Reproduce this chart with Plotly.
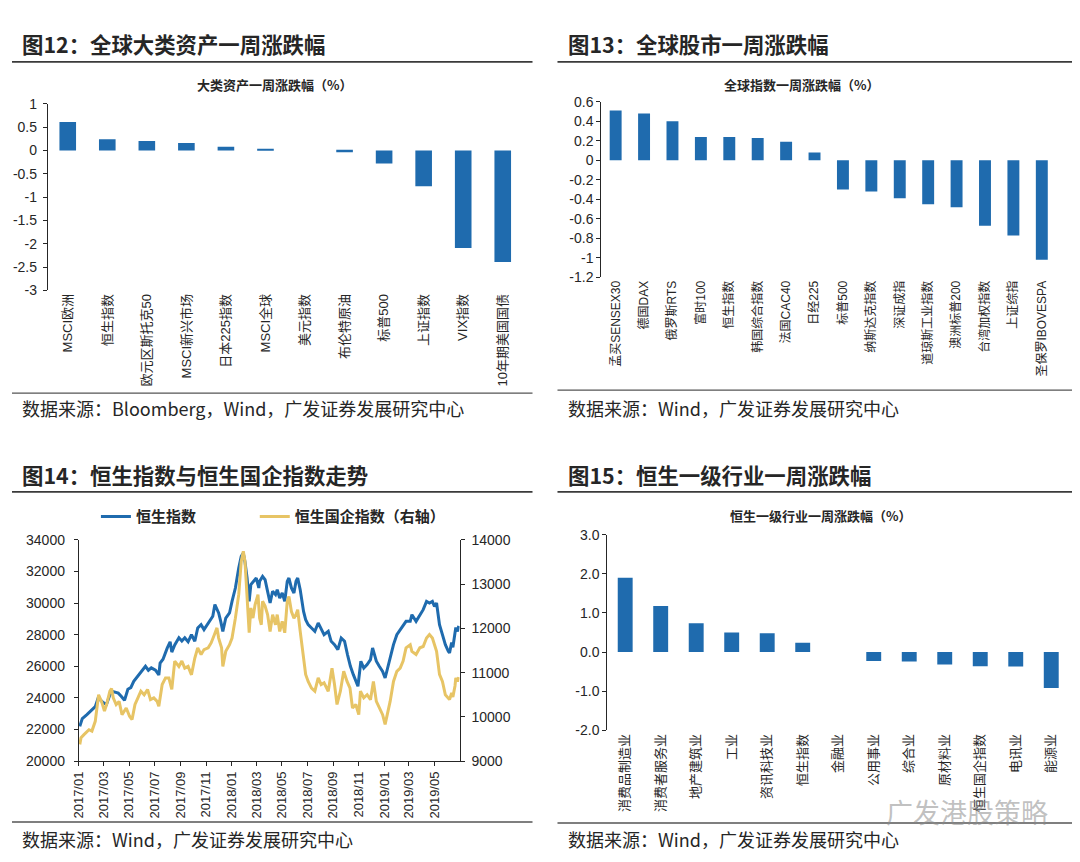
import plotly.graph_objects as go

# ---------------- data ----------------
p1_cats = ["MSCI欧洲", "恒生指数", "欧元区斯托克50", "MSCI新兴市场", "日本225指数", "MSCI全球",
           "美元指数", "布伦特原油", "标普500", "上证指数", "VIX指数", "10年期美国国债"]
p1_vals = [0.61, 0.24, 0.20, 0.16, 0.08, 0.02, 0.0, -0.04, -0.28, -0.77, -2.09, -2.39]
p1_ticks = [1, 0.5, 0, -0.5, -1, -1.5, -2, -2.5, -3]
p1_ticktext = ["1", "0.5", "0", "-0.5", "-1", "-1.5", "-2", "-2.5", "-3"]

p2_cats = ["孟买SENSEX30", "德国DAX", "俄罗斯RTS", "富时100", "恒生指数", "韩国综合指数", "法国CAC40",
           "日经225", "标普500", "纳斯达克指数", "深证成指", "道琼斯工业指数", "澳洲标普200",
           "台湾加权指数", "上证综指", "圣保罗IBOVESPA"]
p2_vals = [0.51, 0.48, 0.40, 0.24, 0.24, 0.23, 0.19, 0.08, -0.30, -0.32, -0.39, -0.45, -0.48,
           -0.67, -0.77, -1.02]
p2_ticks = [0.6, 0.4, 0.2, 0, -0.2, -0.4, -0.6, -0.8, -1, -1.2]
p2_ticktext = ["0.6", "0.4", "0.2", "0", "-0.2", "-0.4", "-0.6", "-0.8", "-1", "-1.2"]

p4_cats = ["消费品制造业", "消费者服务业", "地产建筑业", "工业", "资讯科技业", "恒生指数", "金融业",
           "公用事业", "综合业", "原材料业", "恒生国企指数", "电讯业", "能源业"]
p4_vals = [1.90, 1.18, 0.74, 0.50, 0.48, 0.24, 0.0, -0.23, -0.24, -0.32, -0.36, -0.37, -0.92]
p4_ticks = [3, 2, 1, 0, -1, -2]
p4_ticktext = ["3.0", "2.0", "1.0", "0.0", "-1.0", "-2.0"]

hsi_dates = ["2017-01-03", "2017-01-09", "2017-01-20", "2017-02-01", "2017-02-09", "2017-02-16",
             "2017-02-28", "2017-03-08", "2017-03-16", "2017-03-24", "2017-04-05", "2017-04-12",
             "2017-04-20", "2017-04-28", "2017-05-05", "2017-05-12", "2017-05-22", "2017-06-02",
             "2017-06-09", "2017-06-16", "2017-06-23", "2017-07-03", "2017-07-11", "2017-07-14",
             "2017-07-21", "2017-07-31", "2017-08-07", "2017-08-11", "2017-08-18", "2017-08-28",
             "2017-09-04", "2017-09-11", "2017-09-19", "2017-09-27", "2017-10-05", "2017-10-12",
             "2017-10-20", "2017-10-27", "2017-11-06", "2017-11-13", "2017-11-17", "2017-11-22",
             "2017-12-01", "2017-12-06", "2017-12-11", "2017-12-18", "2017-12-27", "2018-01-02",
             "2018-01-10", "2018-01-18", "2018-01-24", "2018-01-29", "2018-02-02", "2018-02-07",
             "2018-02-12", "2018-02-16", "2018-02-23",
             "2018-03-01", "2018-03-07", "2018-03-09", "2018-03-16", "2018-03-22", "2018-03-28",
             "2018-04-03", "2018-04-09", "2018-04-16", "2018-04-20", "2018-04-26", "2018-05-02",
             "2018-05-08", "2018-05-14", "2018-05-18", "2018-05-24", "2018-05-30", "2018-06-04",
             "2018-06-08", "2018-06-14", "2018-06-22", "2018-06-27", "2018-07-03", "2018-07-11",
             "2018-07-19", "2018-07-27", "2018-08-03", "2018-08-10", "2018-08-20", "2018-08-27",
             "2018-09-04", "2018-09-12", "2018-09-20", "2018-09-28", "2018-10-05", "2018-10-12",
             "2018-10-19", "2018-10-26", "2018-10-30", "2018-11-06", "2018-11-13", "2018-11-21",
             "2018-11-29", "2018-12-04", "2018-12-13", "2018-12-20", "2018-12-28", "2019-01-03",
             "2019-01-15", "2019-01-23", "2019-01-31", "2019-02-08", "2019-02-15", "2019-02-22",
             "2019-03-04", "2019-03-08", "2019-03-18", "2019-03-27", "2019-04-04", "2019-04-12",
             "2019-04-19", "2019-04-26", "2019-05-01", "2019-05-06", "2019-05-13", "2019-05-20",
             "2019-05-27", "2019-06-03", "2019-06-06", "2019-06-11", "2019-06-14", "2019-06-19",
             "2019-06-21", "2019-06-25", "2019-06-28"]
hsi_vals = [22200, 22700, 22950, 23250, 23450, 24000,
            23700, 23600, 24200, 24400, 24300, 24100,
            23850, 24550, 24650, 25050, 25400, 25800,
            26000, 25750, 25900, 25750, 25450, 26200,
            26450, 27150, 27550, 26900, 27350, 27800,
            27600, 27800, 27550, 28000, 27580, 28420,
            28630, 28320, 28740, 29050, 29160, 29900,
            29370, 28840, 28210, 29050, 29370, 30100,
            30950, 32210, 32950, 33150, 32600, 31580,
            30100, 31160, 31370,
            31580, 30950, 31370, 31680, 31470, 30740,
            30000, 30740, 30530, 30840, 30320, 30630,
            30100, 31370, 31580, 30950, 30630, 31370,
            31580, 30840, 29470, 28950, 28630, 28420,
            28210, 28740, 28320, 28000, 28210, 27580,
            27370, 27050, 27790, 27580, 26740, 26000,
            25470, 25050, 24740, 26320, 25890, 26110,
            26420, 27160, 26320, 26000, 25680, 25260,
            26530, 27370, 28000, 28320, 28630, 28840,
            28840, 29260, 28840, 29260, 29580, 30100,
            30000, 30100, 29790, 30000, 28630, 28000,
            27370, 26950, 26850, 27500, 27200, 28100,
            28450, 28200, 28550]

hscei_dates = ["2017-01-03", "2017-01-06", "2017-01-13", "2017-01-25", "2017-02-01", "2017-02-09",
               "2017-02-17", "2017-02-24", "2017-03-03", "2017-03-08", "2017-03-16", "2017-03-20",
               "2017-03-24", "2017-03-31", "2017-04-07", "2017-04-14", "2017-04-24", "2017-05-02",
               "2017-05-08", "2017-05-15", "2017-05-22", "2017-05-29", "2017-06-06", "2017-06-14",
               "2017-06-21", "2017-06-29", "2017-07-07", "2017-07-11", "2017-07-19", "2017-07-27",
               "2017-08-04", "2017-08-11", "2017-08-18", "2017-08-28", "2017-09-04", "2017-09-11",
               "2017-09-19", "2017-09-27", "2017-10-05", "2017-10-12", "2017-10-20", "2017-10-27",
               "2017-11-06", "2017-11-13", "2017-11-21", "2017-11-27", "2017-12-01", "2017-12-08",
               "2017-12-11", "2017-12-18", "2017-12-27", "2018-01-02", "2018-01-10", "2018-01-18",
               "2018-01-24", "2018-01-29", "2018-02-02", "2018-02-07", "2018-02-12", "2018-02-16",
               "2018-02-21", "2018-02-26",
               "2018-03-01", "2018-03-05", "2018-03-09", "2018-03-13", "2018-03-16", "2018-03-22",
               "2018-03-28", "2018-04-03", "2018-04-09", "2018-04-16", "2018-04-20", "2018-04-26",
               "2018-05-02", "2018-05-08", "2018-05-14", "2018-05-18", "2018-05-24", "2018-05-30",
               "2018-06-04", "2018-06-08", "2018-06-14", "2018-06-22", "2018-06-27", "2018-07-03",
               "2018-07-11", "2018-07-19", "2018-07-27", "2018-08-03", "2018-08-10", "2018-08-20",
               "2018-08-29", "2018-09-04", "2018-09-10", "2018-09-18", "2018-09-26", "2018-10-04",
               "2018-10-11", "2018-10-17", "2018-10-25", "2018-11-01", "2018-11-05", "2018-11-13",
               "2018-11-21", "2018-11-29", "2018-12-06", "2018-12-13", "2018-12-20", "2018-12-28",
               "2019-01-03", "2019-01-15", "2019-01-23", "2019-01-31", "2019-02-08", "2019-02-15",
               "2019-02-22", "2019-03-04", "2019-03-08", "2019-03-18", "2019-03-27", "2019-04-04",
               "2019-04-12", "2019-04-19", "2019-04-26", "2019-05-01", "2019-05-06", "2019-05-13",
               "2019-05-20", "2019-05-27", "2019-06-03", "2019-06-06", "2019-06-11", "2019-06-14",
               "2019-06-19", "2019-06-21", "2019-06-25", "2019-06-28"]
hscei_vals = [9380, 9530, 9600, 9710, 9680, 9900,
              10500, 10350, 10130, 10280, 10580, 10640,
              10430, 10280, 10350, 10050, 10200, 10015,
              9940, 10280, 10430, 10580, 10500, 10620,
              10390, 10430, 10350, 10240, 10730, 10880,
              10880, 10620, 11260, 11140, 11260, 11100,
              11140, 10950, 11330, 11560, 11410, 11520,
              11560, 11670, 11860, 12010, 11780, 11560,
              11140, 11480, 11630, 11780, 12230, 12760,
              13510, 13740, 13510, 12610, 11900, 12460,
              12230, 12530,
              12610, 12760, 12230, 12080, 12610, 12500,
              12310, 11930, 12310, 12080, 12310, 11930,
              12160, 11900, 12610, 12720, 12380, 12230,
              12310, 12420, 11930, 11330, 10960, 10800,
              10650, 10580, 10880, 10730, 10770, 10580,
              11100, 10730, 10280, 10580, 11030, 10800,
              10650, 10200, 10280, 10050, 10580, 10430,
              10500, 10390, 10800, 10350, 10200, 10050,
              9830, 10350, 10800, 11030, 11100, 11260,
              11560, 11630, 11480, 11410, 11560, 11590,
              11780, 11860, 11780, 11630, 11480, 10960,
              10800, 10500, 10430, 10390, 10540, 10450,
              10700, 10880, 10800, 10900]

# ---------------- layout helpers ----------------
# Figure size leaves room for the page's default body margin; px/py map
# reference-image pixel positions onto the paper as measured on the page.
W, H = 1064, 846
X0, X1 = 16, 1073
Y0, Y1 = 15, 847


def px(x):
    return (x - X0) / (X1 - X0)


def py(y):
    return 1 - (y - Y0) / (Y1 - Y0)


BLUE = "#1F6BAE"
YELLOW = "#E7C465"
AX = "#262626"
TXT = "#262626"
LAT = "Liberation Sans, Noto Sans CJK SC, sans-serif"
CJK = "Noto Sans CJK SC, Liberation Sans, sans-serif"


def zero_pos(dom, rng):
    return dom[0] + (0 - rng[0]) / (rng[1] - rng[0]) * (dom[1] - dom[0])


fig = go.Figure()

fig.add_trace(go.Bar(x=p1_cats, y=p1_vals, marker=dict(color=BLUE, line=dict(width=0)),
                     width=0.42, xaxis="x", yaxis="y", showlegend=False, hoverinfo="skip"))
fig.add_trace(go.Bar(x=p2_cats, y=p2_vals, marker=dict(color=BLUE, line=dict(width=0)),
                     width=0.42, xaxis="x2", yaxis="y2", showlegend=False, hoverinfo="skip"))
fig.add_trace(go.Scatter(x=hsi_dates, y=hsi_vals, mode="lines", name="恒生指数",
                         line=dict(color=BLUE, width=3), xaxis="x3", yaxis="y3",
                         legend="legend"))
fig.add_trace(go.Scatter(x=hscei_dates, y=hscei_vals, mode="lines", name="恒生国企指数（右轴）",
                         line=dict(color=YELLOW, width=3), xaxis="x3", yaxis="y4",
                         legend="legend2"))
fig.add_trace(go.Bar(x=p4_cats, y=p4_vals, marker=dict(color=BLUE, line=dict(width=0)),
                     width=0.42, xaxis="x4", yaxis="y5", showlegend=False, hoverinfo="skip"))

tickfont = dict(family=LAT, size=14, color=TXT)
catfont = dict(family=LAT, size=13, color=TXT)

y1_dom = [py(290), py(103)]
y1_rng = [-3, 1]
y2_dom = [py(277), py(101)]
y2_rng = [-1.2, 0.6]
y5_dom = [py(731), py(535)]
y5_rng = [-2, 3]

cat_axis = dict(type="category", showline=False, ticks="", showgrid=False, zeroline=False,
                tickangle=-90, tickfont=catfont)
val_axis = dict(showline=True, linecolor=AX, linewidth=1.3, ticks="outside", ticklen=4,
                tickcolor=AX, tickwidth=1.3, showgrid=False, zeroline=False, tickfont=tickfont)


def zero_axis(base, n, pos):
    return dict(overlaying=base, anchor="free", position=pos, range=[-0.5, n - 0.5],
                tickmode="array", tickvals=[i + 0.5 for i in range(n)], showticklabels=False,
                ticks="outside", ticklen=4, tickcolor=AX, tickwidth=1.3, showline=True,
                linecolor=AX, linewidth=1.3, showgrid=False, zeroline=False)


legfont = dict(family=CJK, size=15, color=TXT, weight="bold")

fig.update_layout(
    width=W, height=H, margin=dict(l=0, r=0, t=0, b=0),
    paper_bgcolor="white", plot_bgcolor="white", bargap=0.5,
    font=dict(family=LAT, color=TXT),
    xaxis=dict(cat_axis, domain=[px(48), px(523)], anchor="y"),
    yaxis=dict(val_axis, domain=y1_dom, range=y1_rng, anchor="x", ticklabelstandoff=3,
               tickmode="array", tickvals=p1_ticks, ticktext=p1_ticktext),
    xaxis5=zero_axis("x", len(p1_cats), zero_pos(y1_dom, y1_rng)),
    xaxis2=dict(cat_axis, domain=[px(602), px(1057)], anchor="y2",
                tickfont=dict(family=LAT, size=12, color=TXT)),
    yaxis2=dict(val_axis, domain=y2_dom, range=y2_rng, anchor="x2",
                tickmode="array", tickvals=p2_ticks, ticktext=p2_ticktext),
    xaxis6=zero_axis("x2", len(p2_cats), zero_pos(y2_dom, y2_rng)),
    xaxis3=dict(val_axis, type="date", domain=[px(79), px(460)], anchor="y3",
                range=["2017-01-01", "2019-06-30"], tick0="2017-01-01", dtick="M2",
                tickformat="%Y/%m", tickangle=-90, tickfont=dict(family=LAT, size=13, color=TXT)),
    yaxis3=dict(val_axis, domain=[py(762), py(540)], range=[20000, 34000], dtick=2000,
                tickformat="d", anchor="x3", ticklabelstandoff=6),
    yaxis4=dict(val_axis, overlaying="y3", side="right", anchor="x3", range=[9000, 14000],
                dtick=1000, tickformat="d", ticklabelstandoff=4),
    xaxis4=dict(cat_axis, domain=[px(608), px(1070)], anchor="y5"),
    yaxis5=dict(val_axis, domain=y5_dom, range=y5_rng, anchor="x4",
                tickmode="array", tickvals=p4_ticks, ticktext=p4_ticktext),
    xaxis7=zero_axis("x4", len(p4_cats), zero_pos(y5_dom, y5_rng)),
    showlegend=True,
    legend=dict(orientation="h", x=px(96), y=py(517), xanchor="left", yanchor="middle",
                font=legfont, bgcolor="rgba(0,0,0,0)", itemwidth=30),
    legend2=dict(orientation="h", x=px(255), y=py(517), xanchor="left", yanchor="middle",
                 font=legfont, bgcolor="rgba(0,0,0,0)", itemwidth=30),
)

annotations = []
shapes = []


def text(x, y, s, size, bold=False, xanchor="left", family=CJK, color=TXT):
    annotations.append(dict(x=px(x), y=py(y), xref="paper", yref="paper", text=s,
                            showarrow=False, xanchor=xanchor, yanchor="middle",
                            font=dict(family=family, size=size, color=color,
                                      weight="bold" if bold else "normal")))


def hline(x0, x1, y, color, width):
    shapes.append(dict(type="line", xref="paper", yref="paper", x0=px(x0), x1=px(x1),
                       y0=py(y), y1=py(y), line=dict(color=color, width=width)))


# headers
text(20, 43, "图12：全球大类资产一周涨跌幅", 21.4, bold=True)
text(567, 43, "图13：全球股市一周涨跌幅", 21.4, bold=True)
text(20, 475, "图14：恒生指数与恒生国企指数走势", 21.4, bold=True)
text(567, 475, "图15：恒生一级行业一周涨跌幅", 21.4, bold=True)
hline(12, 533, 61, "#3a3a3a", 1.6)
hline(558, 1080, 61, "#3a3a3a", 1.6)
hline(12, 533, 492, "#3a3a3a", 1.6)
hline(558, 1080, 492, "#3a3a3a", 1.6)
hline(12, 533, 393, "#555555", 1.4)
hline(558, 1080, 390, "#555555", 1.4)
hline(12, 533, 823, "#555555", 1.4)
hline(558, 1080, 824, "#555555", 1.4)

# subtitles
text(275, 84, "大类资产一周涨跌幅（%）", 13, bold=True, xanchor="center")
text(803, 84, "全球指数一周涨跌幅（%）", 13, bold=True, xanchor="center")
text(822, 516, "恒生一级行业一周涨跌幅（%）", 13, bold=True, xanchor="center")

# sources
text(20, 408, "数据来源：Bloomberg，Wind，广发证券发展研究中心", 18)
text(567, 408, "数据来源：Wind，广发证券发展研究中心", 18)
text(20, 840, "数据来源：Wind，广发证券发展研究中心", 18)
text(567, 840, "数据来源：Wind，广发证券发展研究中心", 18)

# watermark
text(885, 812, "广发港股策略", 27, color="rgba(140,140,140,0.55)")

fig.update_layout(annotations=annotations, shapes=shapes)

fig.write_html("out.html", config={"displayModeBar": False})
